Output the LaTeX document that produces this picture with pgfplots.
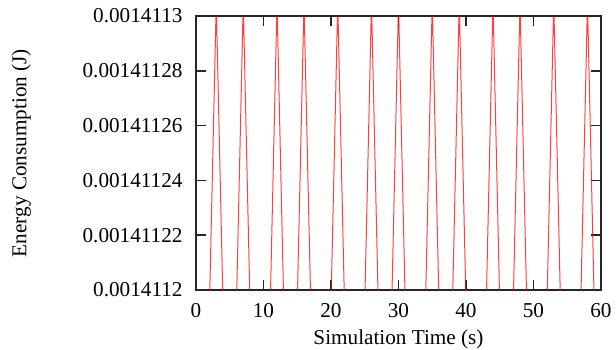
\documentclass[border=0pt]{standalone}
\usepackage{fontspec}
\setmainfont{Liberation Serif}
\usepackage{pgfplots}
\pgfplotsset{compat=1.18}
\usepackage{pgfplotstable}
% E given as (Energy - 0.0014112 J) in units of 1e-11 J
\pgfplotstableread{
t E
0 -0.5
1 -0.5
2 -0.5
3 10.5
4 -0.5
5 -0.5
6 -0.5
7 10.5
8 -0.5
9 -0.5
10 -0.5
11 -0.5
12 10.5
13 -0.5
14 -0.5
15 -0.5
16 10.5
17 -0.5
18 -0.5
19 -0.5
20 -0.5
21 10.5
22 -0.5
23 -0.5
24 -0.5
25 -0.5
26 10.5
27 -0.5
28 -0.5
29 -0.5
30 10.5
31 -0.5
32 -0.5
33 -0.5
34 -0.5
35 10.5
36 -0.5
37 -0.5
38 -0.5
39 10.5
40 -0.5
41 -0.5
42 -0.5
43 -0.5
44 10.5
45 -0.5
46 -0.5
47 -0.5
48 10.5
49 -0.5
50 -0.5
51 -0.5
52 -0.5
53 10.5
54 -0.5
55 -0.5
56 -0.5
57 -0.5
58 10.5
59 -0.5
60 -0.5
}\energy
\begin{document}
\fontsize{10.6}{12.7}\selectfont
\begin{tikzpicture}
\begin{axis}[
  scale only axis,
  width=202.5pt, height=137pt,
  xmin=0, xmax=60, ymin=0, ymax=10,
  xtick={0,10,...,60},
  ytick={0,2,4,6,8,10},
  yticklabels={0.0014112,0.00141122,0.00141124,0.00141126,0.00141128,0.0014113},
  tick align=inside,
  major tick length=5pt,
  axis line style={line width=0.8pt, black!85},
  every tick/.style={black!85, line width=0.8pt},
  /pgf/number format/assume math mode=true,
  xticklabel style={yshift=-3pt},
  yticklabel style={xshift=-3pt},
  xlabel={Simulation Time (s)},
  ylabel={Energy Consumption (J)},
  xlabel style={at={(axis description cs:0.5,0)}, anchor=base, yshift=-27pt},
  ylabel style={at={([xshift=-84.75pt]axis description cs:0,0.5)}, anchor=base},
]
\addplot[red, line width=0.5pt, opacity=0.75] table[x=t, y=E]{\energy};
\end{axis}
\pgfresetboundingbox
\path ([shift={(-98pt,-29.5pt)}]current axis.south west) rectangle ++(308pt,174.5pt);
\end{tikzpicture}
\end{document}
